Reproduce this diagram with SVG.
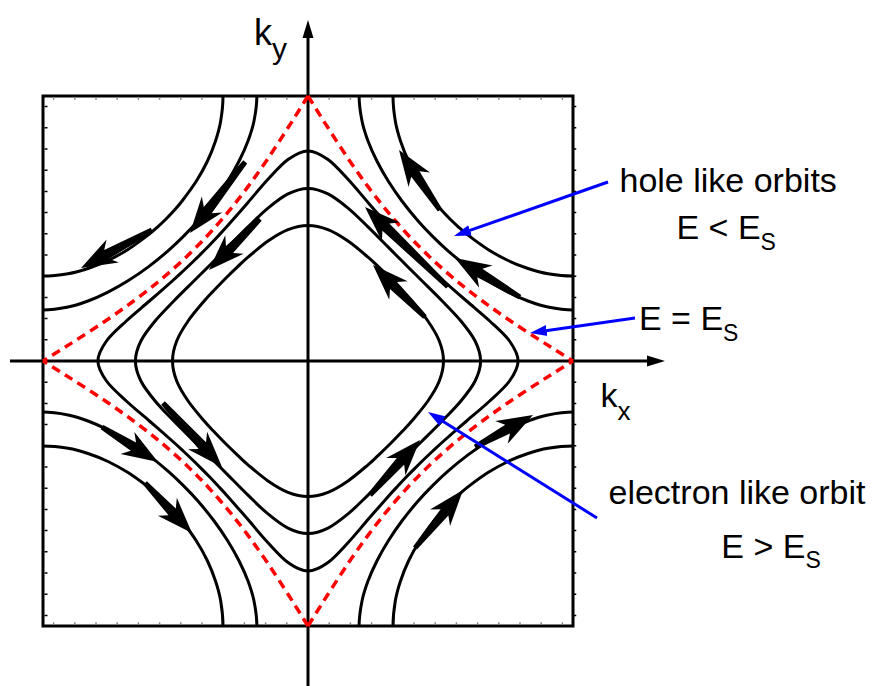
<svg xmlns="http://www.w3.org/2000/svg" xmlns:xlink="http://www.w3.org/1999/xlink" width="877" height="686" viewBox="0 0 877 686">
<style>
.ln{fill:none;stroke:#000;stroke-width:3}
.bl{fill:none;stroke:#00f;stroke-width:3}
.t{font-family:"Liberation Sans",Arial,sans-serif;font-size:34px;fill:#000}
.s{font-size:23px}
</style>
<defs>
<path id="o1" d="M0,210.1 C6.67,210.1 13.33,206.23 20,201.5 C26.67,196.77 33.33,188.85 40,181.7 C46.67,174.55 53.33,166.27 60,158.6 C66.67,150.93 75,141.33 80,135.7 C85,130.07 86.67,128.37 90,124.8 C93.33,121.23 97.15,117.25 100,114.3 C102.85,111.35 104.72,109.48 107.1,107.1 C109.48,104.72 111.35,102.85 114.3,100 C117.25,97.15 121.23,93.33 124.8,90 C128.37,86.67 130.07,85 135.7,80 C141.33,75 150.93,66.67 158.6,60 C166.27,53.33 174.55,46.67 181.7,40 C188.85,33.33 196.77,26.67 201.5,20 C206.23,13.33 210.1,6.67 210.1,0"/>
<path id="o2" d="M0,172.6 C6.67,172.6 13.33,170.38 20,167.1 C26.67,163.82 33.33,158.38 40,152.9 C46.67,147.42 53.33,140.67 60,134.2 C66.67,127.73 75,119.13 80,114.1 C85,109.07 87.17,106.85 90,104 C92.83,101.15 94.67,99.33 97,97 C99.33,94.67 101.15,92.83 104,90 C106.85,87.17 109.07,85 114.1,80 C119.13,75 127.73,66.67 134.2,60 C140.67,53.33 147.42,46.67 152.9,40 C158.38,33.33 163.82,26.67 167.1,20 C170.38,13.33 172.6,6.67 172.6,0"/>
<path id="o3" d="M0,135.5 C6.67,135.5 13.33,133.9 20,131.3 C26.67,128.7 33.33,124.48 40,119.9 C46.67,115.32 55,108.02 60,103.8 C65,99.58 66.25,98.15 70,94.6 C73.75,91.05 78.4,86.6 82.5,82.5 C86.6,78.4 91.05,73.75 94.6,70 C98.15,66.25 99.58,65 103.8,60 C108.02,55 115.32,46.67 119.9,40 C124.48,33.33 128.7,26.67 131.3,20 C133.9,13.33 135.5,6.67 135.5,0"/>
<path id="h1" d="M51.1,265 C51.1,256.67 52.52,247.5 54,240 C55.48,232.5 57.52,226.67 60,220 C62.48,213.33 65.53,206.67 68.9,200 C72.27,193.33 76.03,186.67 80.2,180 C84.37,173.33 88.92,166.67 93.9,160 C98.88,153.33 104.98,145.9 110.1,140 C115.22,134.1 119.62,129.58 124.6,124.6 C129.58,119.62 134.1,115.22 140,110.1 C145.9,104.98 153.33,98.88 160,93.9 C166.67,88.92 173.33,84.37 180,80.2 C186.67,76.03 193.33,72.27 200,68.9 C206.67,65.53 213.33,62.48 220,60 C226.67,57.52 232.5,55.48 240,54 C247.5,52.52 256.67,51.1 265,51.1"/>
<path id="h2" d="M85,265 C85,256.67 86.05,247.5 87.3,240 C88.55,232.5 90.3,226.67 92.5,220 C94.7,213.33 97.32,206.67 100.5,200 C103.68,193.33 107.37,186.67 111.6,180 C115.83,173.33 122.1,165 125.9,160 C129.7,155 131.72,153 134.4,150 C137.08,147 139.4,144.6 142,142 C144.6,139.4 147,137.08 150,134.4 C153,131.72 155,129.7 160,125.9 C165,122.1 173.33,115.83 180,111.6 C186.67,107.37 193.33,103.68 200,100.5 C206.67,97.32 213.33,94.7 220,92.5 C226.67,90.3 232.5,88.55 240,87.3 C247.5,86.05 256.67,85 265,85"/>
<path id="es" d="M0,265 C3.33,259.67 6.67,254.3 10,249 C13.33,243.7 15,240.93 20,233.2 C25,225.47 33.33,212.4 40,202.6 C46.67,192.8 53.33,183.37 60,174.4 C66.67,165.43 73.33,156.87 80,148.8 C86.67,140.73 94.53,132 100,126 C105.47,120 108.47,117.13 112.8,112.8 C117.13,108.47 120,105.47 126,100 C132,94.53 140.73,86.67 148.8,80 C156.87,73.33 165.43,66.67 174.4,60 C183.37,53.33 192.8,46.67 202.6,40 C212.4,33.33 225.47,25 233.2,20 C240.93,15 243.7,13.33 249,10 C254.3,6.67 259.67,3.33 265,0"/>
<marker id="bh" markerUnits="userSpaceOnUse" markerWidth="18" markerHeight="12" refX="1" refY="6" orient="auto"><path d="M0,0.5 L17,6 L0,11.5 z" fill="#00f"/></marker>
</defs>

<g id="frame">
<rect class="ln" x="43" y="96" width="530" height="530"/>
<path d="M46,96 V626" stroke="#000" stroke-width="3" stroke-dasharray="0 9.85 1.5 9.85"/>
<path d="M575,96 V626" stroke="#000" stroke-width="2.5" stroke-dasharray="0 9.85 1.5 9.85"/>
<path d="M43,98.5 H573" stroke="#888" stroke-width="2.5" stroke-dasharray="0 9.85 1.5 9.85"/>
<path d="M43,623.5 H573" stroke="#888" stroke-width="2.5" stroke-dasharray="0 9.85 1.5 9.85"/>
</g>

<g id="axes">
<line class="ln" x1="10" y1="361" x2="649" y2="361"/>
<path d="M665,361 L647,355.5 L647,366.5 Z" fill="#000"/>
<line class="ln" x1="308" y1="686" x2="308" y2="37"/>
<path d="M308,20 L302.5,38 L313.5,38 Z" fill="#000"/>
</g>

<g id="electron-orbits" fill="none" stroke="#000" stroke-width="3">
<use xlink:href="#o1" transform="translate(308,361) scale(-1,-1)"/>
<use xlink:href="#o1" transform="translate(308,361) scale(1,-1)"/>
<use xlink:href="#o1" transform="translate(308,361) scale(-1,1)"/>
<use xlink:href="#o1" transform="translate(308,361)"/>
<use xlink:href="#o2" transform="translate(308,361) scale(-1,-1)"/>
<use xlink:href="#o2" transform="translate(308,361) scale(1,-1)"/>
<use xlink:href="#o2" transform="translate(308,361) scale(-1,1)"/>
<use xlink:href="#o2" transform="translate(308,361)"/>
<use xlink:href="#o3" transform="translate(308,361) scale(-1,-1)"/>
<use xlink:href="#o3" transform="translate(308,361) scale(1,-1)"/>
<use xlink:href="#o3" transform="translate(308,361) scale(-1,1)"/>
<use xlink:href="#o3" transform="translate(308,361)"/>
</g>

<g id="hole-orbits" fill="none" stroke="#000" stroke-width="3">
<use xlink:href="#h1" transform="translate(308,361) scale(-1,-1)"/>
<use xlink:href="#h1" transform="translate(308,361) scale(1,-1)"/>
<use xlink:href="#h1" transform="translate(308,361) scale(-1,1)"/>
<use xlink:href="#h1" transform="translate(308,361)"/>
<use xlink:href="#h2" transform="translate(308,361) scale(-1,-1)"/>
<use xlink:href="#h2" transform="translate(308,361) scale(1,-1)"/>
<use xlink:href="#h2" transform="translate(308,361) scale(-1,1)"/>
<use xlink:href="#h2" transform="translate(308,361)"/>
</g>

<g id="saddle-contour" fill="none" stroke="#f00" stroke-width="3.5" stroke-dasharray="9 6">
<use xlink:href="#es" transform="translate(308,361) scale(-1,-1)"/>
<use xlink:href="#es" transform="translate(308,361) scale(1,-1)"/>
<use xlink:href="#es" transform="translate(308,361) scale(-1,1)"/>
<use xlink:href="#es" transform="translate(308,361)"/>
</g>

<g id="orbit-arrows" fill="#000">
<path transform="translate(190,233) rotate(127.8)" d="M0,0 L-36,-13 L-29,-5 L-90,-2.5 L-90,2.5 L-29,5 L-36,13 Z"/>
<path transform="translate(81,268) rotate(151.8)" d="M0,0 L-36,-13 L-29,-5 L-80.5,-2.5 L-80.5,2.5 L-29,5 L-36,13 Z"/>
<path transform="translate(209,270) rotate(135)" d="M0,0 L-36,-13 L-29,-5 L-72,-2.5 L-72,2.5 L-29,5 L-36,13 Z"/>
<path transform="translate(399,150) rotate(-124.3)" d="M0,0 L-36,-13 L-29,-5 L-72.7,-2.5 L-72.7,2.5 L-29,5 L-36,13 Z"/>
<path transform="translate(455,258) rotate(-149)" d="M0,0 L-36,-13 L-29,-5 L-75.8,-2.5 L-75.8,2.5 L-29,5 L-36,13 Z"/>
<path transform="translate(365,207) rotate(-136.1)" d="M0,0 L-36,-13 L-29,-5 L-115,-2.5 L-115,2.5 L-29,5 L-36,13 Z"/>
<path transform="translate(373,265) rotate(-135)" d="M0,0 L-36,-13 L-29,-5 L-73.5,-2.5 L-73.5,2.5 L-29,5 L-36,13 Z"/>
<path transform="translate(158,462) rotate(32)" d="M0,0 L-36,-13 L-29,-5 L-66,-2.5 L-66,2.5 L-29,5 L-36,13 Z"/>
<path transform="translate(192,533) rotate(46.8)" d="M0,0 L-36,-13 L-29,-5 L-68.6,-2.5 L-68.6,2.5 L-29,5 L-36,13 Z"/>
<path transform="translate(222,467) rotate(47.3)" d="M0,0 L-36,-13 L-29,-5 L-87,-2.5 L-87,2.5 L-29,5 L-36,13 Z"/>
<path transform="translate(533,415) rotate(-28.9)" d="M0,0 L-36,-13 L-29,-5 L-66.2,-2.5 L-66.2,2.5 L-29,5 L-36,13 Z"/>
<path transform="translate(463,490) rotate(-50.4)" d="M0,0 L-36,-13 L-29,-5 L-75.3,-2.5 L-75.3,2.5 L-29,5 L-36,13 Z"/>
<path transform="translate(420,440) rotate(-47.7)" d="M0,0 L-36,-13 L-29,-5 L-74.3,-2.5 L-74.3,2.5 L-29,5 L-36,13 Z"/>
</g>

<g id="pointers" class="bl">
<line x1="608" y1="182" x2="469.1" y2="230.7" marker-end="url(#bh)"/>
<line x1="635" y1="318" x2="545.8" y2="330.7" marker-end="url(#bh)"/>
<line x1="597" y1="518" x2="441.6" y2="420.5" marker-end="url(#bh)"/>
</g>

<g id="labels">
<text class="t" x="254" y="45" style="font-size:36px">k<tspan style="font-size:30px" dy="14">y</tspan></text>
<text class="t" x="600.5" y="407">k<tspan style="font-size:26px" dy="13">x</tspan></text>
<text class="t" x="619.5" y="192">hole like orbits</text>
<text class="t" x="676.5" y="238.5">E &lt; E<tspan class="s" dy="11">S</tspan></text>
<text class="t" x="639" y="330">E = E<tspan class="s" dy="11">S</tspan></text>
<text class="t" x="608.5" y="503.5">electron like orbit</text>
<text class="t" x="721.3" y="558.3">E &gt; E<tspan class="s" dy="10">S</tspan></text>
</g>
</svg>
